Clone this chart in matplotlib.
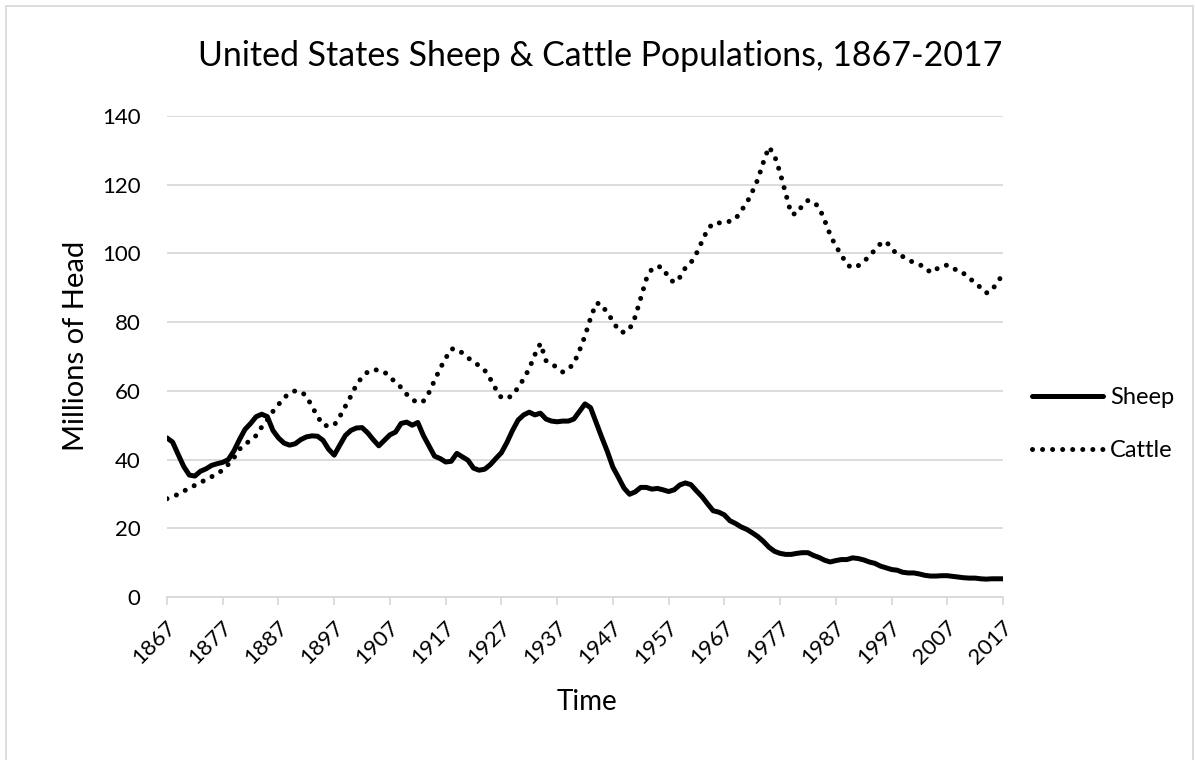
import matplotlib
matplotlib.use("Agg")
import matplotlib.pyplot as plt
import matplotlib.transforms as mtrans
from matplotlib.patches import Rectangle

plt.rcParams['font.family'] = ['Lato', 'DejaVu Sans']

# data, millions of head, one value per year 1867-2017
years = list(range(1867, 2018))
sheep = [46.3, 45.1, 41.5, 38.0, 35.5, 35.2, 36.6, 37.3, 38.3, 38.8,
         39.2, 40.0, 42.5, 45.8, 48.8, 50.5, 52.5, 53.2, 52.5, 48.5,
         46.3, 44.8, 44.2, 44.6, 45.8, 46.6, 46.9, 46.8, 45.6, 43.0,
         41.3, 44.2, 47.0, 48.5, 49.2, 49.3, 47.8, 45.8, 44.0, 45.6,
         47.2, 48.0, 50.5, 50.9, 50.0, 50.8, 47.0, 44.0, 41.0, 40.3,
         39.3, 39.5, 41.8, 40.8, 39.8, 37.5, 36.9, 37.2, 38.5, 40.3,
         42.0, 45.0, 48.5, 51.5, 53.0, 53.8, 53.0, 53.5, 51.8, 51.2,
         51.0, 51.2, 51.2, 51.8, 54.0, 56.2, 55.1, 50.8, 46.5, 42.4,
         37.8, 34.8, 31.7, 29.9, 30.6, 31.9, 31.9, 31.4, 31.6, 31.2,
         30.7, 31.2, 32.6, 33.2, 32.7, 30.9, 29.2, 27.1, 25.1, 24.7,
         23.9, 22.2, 21.4, 20.4, 19.7, 18.7, 17.6, 16.2, 14.5, 13.3,
         12.7, 12.4, 12.4, 12.7, 12.9, 12.9, 12.1, 11.5, 10.7, 10.2,
         10.6, 10.9, 10.9, 11.4, 11.2, 10.8, 10.2, 9.8, 9.0, 8.5,
         8.0, 7.8, 7.2, 7.0, 7.0, 6.7, 6.3, 6.1, 6.1, 6.2,
         6.2, 6.0, 5.8, 5.6, 5.5, 5.5, 5.3, 5.2, 5.3, 5.3,
         5.3]
cattle = [28.6, 29.2, 29.9, 30.8, 31.7, 32.5, 33.3, 34.2, 35.0, 35.8,
          37.0, 38.6, 40.5, 43.0, 44.5, 45.6, 47.0, 49.5, 51.5, 54.0,
          56.0, 58.0, 59.3, 60.0, 59.8, 58.5, 55.5, 52.6, 50.0, 49.8,
          50.0, 52.5, 55.5, 58.5, 61.8, 64.0, 65.5, 66.2, 66.0, 65.5,
          64.0, 62.5, 61.0, 59.0, 57.5, 56.5, 57.0, 59.5, 63.0, 66.5,
          69.5, 72.2, 72.2, 71.0, 69.6, 68.5, 67.3, 66.0, 63.5, 60.5,
          58.0, 57.8, 58.7, 61.0, 63.5, 66.5, 70.5, 73.8, 68.8, 67.8,
          66.8, 65.5, 66.3, 68.0, 71.7, 76.0, 81.2, 85.5, 85.3, 82.5,
          80.5, 77.5, 77.0, 78.0, 81.5, 87.0, 92.5, 95.5, 96.3, 95.8,
          92.9, 91.5, 93.0, 95.8, 97.3, 100.0, 103.5, 107.0, 108.8, 108.9,
          108.8, 109.4, 110.0, 112.4, 114.6, 117.9, 121.5, 126.5, 131.0, 128.5,
          123.5, 117.5, 111.5, 111.5, 114.0, 115.4, 115.0, 113.4, 109.6, 105.4,
          102.1, 99.6, 96.7, 95.8, 96.4, 97.6, 99.2, 101.0, 102.8, 103.5,
          101.5, 99.7, 99.1, 98.2, 97.3, 96.7, 96.1, 94.4, 95.4, 96.3,
          96.6, 96.0, 94.5, 94.1, 92.9, 91.2, 90.1, 88.5, 89.1, 91.9,
          93.6]
tick_years = list(range(1867, 2018, 10))
y_ticks = [0, 20, 40, 60, 80, 100, 120, 140]

grid_col = '#d9d9d9'

fig = plt.figure(figsize=(11.95, 7.6), dpi=100)
ax = fig.add_axes([167/1195, 1 - 597/760, 836/1195, 481/760])

ax.plot(years, sheep, color='black', lw=3.6, solid_capstyle='round',
        solid_joinstyle='round', label='Sheep')
ax.plot(years, cattle, color='black', lw=3.6, linestyle=(0, (0.01, 2.0)),
        dash_capstyle='round', label='Cattle')

ax.set_xlim(1867, 2017)
ax.set_ylim(0, 140)
ax.set_yticks(y_ticks)
ax.set_xticks(tick_years)
ax.set_xticklabels([str(y) for y in tick_years], rotation=45, ha='right',
                   va='center', rotation_mode='anchor', fontsize=16)
ax.tick_params(axis='x', length=5.8, width=1.3, color=grid_col, pad=13.5)
ax.tick_params(axis='y', length=0, labelsize=16, pad=19)

# nudge rotated year labels a little to the right, like Excel does
shift = mtrans.ScaledTranslation(0.06, 0, fig.dpi_scale_trans)
for lab in ax.get_xticklabels():
    lab.set_transform(lab.get_transform() + shift)

ax.yaxis.grid(True, color=grid_col, lw=1.3)
ax.set_axisbelow(True)
for side in ['top', 'right', 'left']:
    ax.spines[side].set_visible(False)
ax.spines['bottom'].set_color(grid_col)
ax.spines['bottom'].set_linewidth(1.3)

ax.set_ylabel('Millions of Head', fontsize=21)
ax.yaxis.set_label_coords((89 - 167) / 836, (597 - 346) / 481)
ax.set_xlabel('Time', fontsize=20)
ax.xaxis.set_label_coords((587 - 167) / 836, (597 - 689) / 481)
fig.text(600/1195, 1 - 66/760, 'United States Sheep & Cattle Populations, 1867-2017',
         fontsize=24.4, ha='center', va='baseline')

ax.legend(loc='center left', bbox_to_anchor=(1032/1195, 1 - 424/760),
          bbox_transform=fig.transFigure, frameon=False, fontsize=17,
          handlelength=3.0, handletextpad=0.3, labelspacing=1.37,
          borderpad=0, borderaxespad=0)

fig.patches.append(Rectangle((6/1195, -0.01), 1187/1195, 1.01 - 6/760,
                             transform=fig.transFigure, fill=False,
                             edgecolor=grid_col, lw=1.3))

fig.savefig('out.png', dpi=100)
